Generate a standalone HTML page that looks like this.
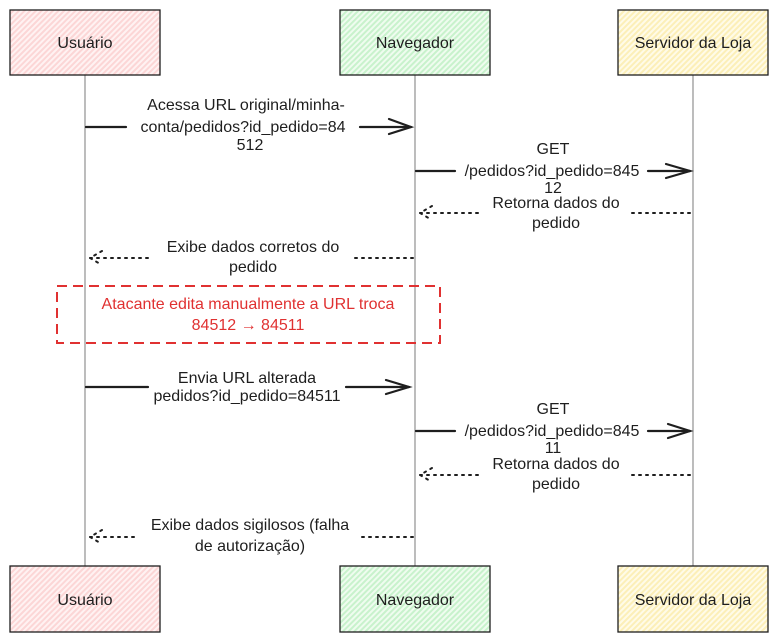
<!DOCTYPE html>
<html><head><meta charset="utf-8"><style>
html,body{margin:0;padding:0;background:#fff;}
svg{display:block;}
text{font-family:"Liberation Sans",sans-serif;font-size:16px;fill:#1e1e1e;text-anchor:middle;}
</style></head><body>
<svg width="779" height="642" viewBox="0 0 779 642" xmlns="http://www.w3.org/2000/svg">
<defs>
<pattern id="hp" width="4" height="4" patternUnits="userSpaceOnUse" patternTransform="rotate(45)"><rect width="4" height="4" fill="#fff2f2"/><rect width="2" height="4" fill="#fcd6d6"/></pattern>
<pattern id="hg" width="4" height="4" patternUnits="userSpaceOnUse" patternTransform="rotate(45)"><rect width="4" height="4" fill="#effcef"/><rect width="2" height="4" fill="#c8f2cc"/></pattern>
<pattern id="hy" width="4" height="4" patternUnits="userSpaceOnUse" patternTransform="rotate(45)"><rect width="4" height="4" fill="#fffbe8"/><rect width="2" height="4" fill="#fcefb8"/></pattern>
</defs>
<g stroke="#999" stroke-width="1.3">
<line x1="85" y1="75" x2="85" y2="566"/>
<line x1="415" y1="75" x2="415" y2="566"/>
<line x1="693" y1="75" x2="693" y2="566"/>
</g>
<g stroke="#1e1e1e" stroke-width="1.3">
<rect x="10" y="10" width="150" height="65" fill="url(#hp)"/>
<rect x="340" y="10" width="150" height="65" fill="url(#hg)"/>
<rect x="618" y="10" width="150" height="65" fill="url(#hy)"/>
<rect x="10" y="566" width="150" height="66" fill="url(#hp)"/>
<rect x="340" y="566" width="150" height="66" fill="url(#hg)"/>
<rect x="618" y="566" width="150" height="66" fill="url(#hy)"/>
</g>
<text x="85" y="48">Usuário</text>
<text x="415" y="48">Navegador</text>
<text x="693" y="48">Servidor da Loja</text>
<text x="85" y="605">Usuário</text>
<text x="415" y="605">Navegador</text>
<text x="693" y="605">Servidor da Loja</text>

<g stroke="#1e1e1e" stroke-width="2.2" fill="none" stroke-linecap="round">
<line x1="86" y1="127" x2="126" y2="127"/><line x1="360" y1="127" x2="411" y2="127"/>
<polyline points="389,119 411,127 389,134"/>
<line x1="416" y1="171" x2="455" y2="171"/><line x1="648" y1="171" x2="690" y2="171"/>
<polyline points="666,164 690,171 666,178"/>
<line x1="86" y1="387" x2="148" y2="387"/><line x1="346" y1="387" x2="409" y2="387"/>
<polyline points="386,380 409,387 386,394"/>
<line x1="416" y1="431" x2="455" y2="431"/><line x1="648" y1="431" x2="690" y2="431"/>
<polyline points="668,424 690,431 668,438"/>
</g>
<g stroke="#1e1e1e" stroke-width="2" fill="none" stroke-dasharray="2 5" stroke-linecap="round">
<line x1="420" y1="213" x2="482" y2="213"/><line x1="632" y1="213" x2="692" y2="213"/>
<line x1="90" y1="258" x2="152" y2="258"/><line x1="355" y1="258" x2="413" y2="258"/>
<line x1="420" y1="475" x2="482" y2="475"/><line x1="632" y1="475" x2="692" y2="475"/>
<line x1="90" y1="537" x2="138" y2="537"/><line x1="362" y1="537" x2="413" y2="537"/>
<polyline points="432,206 420,213 432,220"/>
<polyline points="102,251 90,258 102,265"/>
<polyline points="432,468 420,475 432,482"/>
<polyline points="102,530 90,537 102,544"/>
</g>

<text x="246" y="110">Acessa URL original/minha-</text>
<text x="243" y="132">conta/pedidos?id_pedido=84</text>
<text x="250" y="150">512</text>

<text x="553" y="154">GET</text>
<text x="552" y="176">/pedidos?id_pedido=845</text>
<text x="553" y="193">12</text>
<text x="556" y="208">Retorna dados do</text>
<text x="556" y="228">pedido</text>

<text x="253" y="252">Exibe dados corretos do</text>
<text x="253" y="272">pedido</text>

<rect x="57" y="286" width="383" height="57" fill="none" stroke="#e03131" stroke-width="2" stroke-dasharray="10 6"/>
<text x="248" y="309" style="fill:#e03131">Atacante edita manualmente a URL troca</text>
<text x="248" y="330" style="fill:#e03131">84512 → 84511</text>

<text x="247" y="383">Envia URL alterada</text>
<text x="247" y="401">pedidos?id_pedido=84511</text>

<text x="553" y="414">GET</text>
<text x="552" y="436">/pedidos?id_pedido=845</text>
<text x="553" y="453">11</text>
<text x="556" y="469">Retorna dados do</text>
<text x="556" y="489">pedido</text>

<text x="250" y="530">Exibe dados sigilosos (falha</text>
<text x="250" y="551">de autorização)</text>
</svg>
</body></html>
